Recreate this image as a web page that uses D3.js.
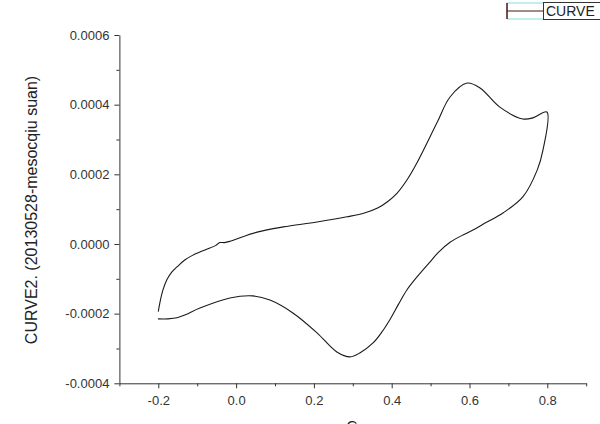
<!DOCTYPE html>
<html>
<head>
<meta charset="utf-8">
<script src="https://d3js.org/d3.v7.min.js"></script>
<style>
  body { margin: 0; background: #fff; }
  svg { display: block; font-family: "Liberation Sans", Arial, sans-serif; }
</style>
</head>
<body>
<div id="chart"></div>
<script>
// forward scan (-0.2 -> 0.8 V)
var forwardX = [-0.200, -0.196, -0.188, -0.178, -0.165, -0.152, -0.132, -0.111, -0.080, -0.052, -0.042, -0.030, -0.015, 0.054, 0.121, 0.208, 0.285, 0.330, 0.365, 0.390, 0.414, 0.440, 0.465, 0.516, 0.550, 0.594, 0.627, 0.678, 0.737, 0.763, 0.799];
var forwardY = [-0.000194, -0.000169, -0.000132, -0.000103, -0.000080, -0.000066, -0.000046, -0.000032, -0.000017, -0.000004, 0.000004, 0.000004, 0.000008, 0.000034, 0.000049, 0.000063, 0.000078, 0.000089, 0.000104, 0.000122, 0.000146, 0.000185, 0.000233, 0.000347, 0.000422, 0.000462, 0.000448, 0.000393, 0.000359, 0.000362, 0.000379];
// reverse scan (0.8 -> -0.2 V)
var reverseX = [0.789, 0.774, 0.737, 0.686, 0.640, 0.609, 0.580, 0.550, 0.520, 0.498, 0.470, 0.439, 0.418, 0.396, 0.374, 0.352, 0.318, 0.293, 0.259, 0.208, 0.146, 0.087, 0.043, -0.016, -0.093, -0.130, -0.152, -0.175, -0.201];
var reverseY = [0.000270, 0.000212, 0.000135, 0.000089, 0.000060, 0.000040, 0.000024, 0.000005, -0.000024, -0.000052, -0.000088, -0.000132, -0.000172, -0.000216, -0.000254, -0.000284, -0.000313, -0.000324, -0.000310, -0.000255, -0.000198, -0.000161, -0.000149, -0.000155, -0.000184, -0.000203, -0.000212, -0.000215, -0.000215];

var xTicks = [-0.2, 0.0, 0.2, 0.4, 0.6, 0.8];
var yTicks = [-0.0004, -0.0002, 0.0000, 0.0002, 0.0004, 0.0006];
var xLabel = "C";
var yLabel = "CURVE2. (20130528-mesocqiu suan)";
var legendLabel = "CURVE";

var width = 600, height = 424;
var svg = d3.select("#chart").append("svg")
    .attr("width", width)
    .attr("height", height);

var x = d3.scaleLinear().domain([-0.3, 0.9]).range([119.4, 586.2]);
var y = d3.scaleLinear().domain([-0.0004, 0.0006]).range([383.3, 35]);

var axisColor = "#333";
// plain hyphen for negatives, like the original
function fmt(spec) {
    var f = d3.format(spec);
    return function(d) { return f(d).replace("\u2212", "-"); };
}

// x axis (bottom)
var xAxis = svg.append("g")
    .attr("transform", "translate(0," + y(-0.0004) + ")")
    .call(d3.axisBottom(x).tickValues(xTicks).tickFormat(fmt(".1f")).tickSize(5).tickSizeOuter(0));
// minor ticks on x
svg.append("g")
    .attr("transform", "translate(0," + y(-0.0004) + ")")
    .call(d3.axisBottom(x).tickValues([-0.3, -0.1, 0.1, 0.3, 0.5, 0.7, 0.9]).tickFormat("").tickSize(3).tickSizeOuter(0))
    .select(".domain").remove();

// y axis (left)
var yAxis = svg.append("g")
    .attr("transform", "translate(" + x(-0.3) + ",0)")
    .call(d3.axisLeft(y).tickValues(yTicks).tickFormat(fmt(".4f")).tickSize(5).tickSizeOuter(0));
svg.append("g")
    .attr("transform", "translate(" + x(-0.3) + ",0)")
    .call(d3.axisLeft(y).tickValues([-0.0003, -0.0001, 0.0001, 0.0003, 0.0005]).tickFormat("").tickSize(3).tickSizeOuter(0))
    .select(".domain").remove();

svg.selectAll(".domain, .tick line").attr("stroke", axisColor);
xAxis.selectAll("text").attr("font-size", 13).attr("fill", "#333").attr("dy", "1.05em");
yAxis.selectAll("text").attr("font-size", 13).attr("fill", "#333").attr("x", -10).attr("dx", 0);
svg.selectAll(".tick text").attr("font-family", "Liberation Sans, Arial, sans-serif");

// axis titles
svg.append("text")
    .attr("transform", "translate(37," + 210 + ") rotate(-90)")
    .attr("text-anchor", "middle")
    .attr("font-size", 16)
    .attr("fill", "#222")
    .text(yLabel);

// x title sits mostly below the bottom edge, as in the original
svg.append("text")
    .attr("x", 352)
    .attr("y", 431)
    .attr("text-anchor", "middle")
    .attr("font-size", 15)
    .attr("fill", "#222")
    .text(xLabel);

// curve
var pts = [];
forwardX.forEach(function(d, i) { pts.push([d, forwardY[i]]); });
reverseX.forEach(function(d, i) { pts.push([d, reverseY[i]]); });

var line = d3.line()
    .x(function(d) { return x(d[0]); })
    .y(function(d) { return y(d[1]); })
    .curve(d3.curveCatmullRom.alpha(0.5));

svg.append("path")
    .datum(pts)
    .attr("d", line)
    .attr("fill", "none")
    .attr("stroke", "#1a1a1a")
    .attr("stroke-width", 1.1);

// legend (clipped at right edge)
var lg = svg.append("g");
lg.append("line").attr("x1", 507).attr("x2", 543).attr("y1", 3).attr("y2", 3).attr("stroke", "#7fdede");
lg.append("line").attr("x1", 507).attr("x2", 543).attr("y1", 19).attr("y2", 19).attr("stroke", "#7fdede");
lg.append("line").attr("x1", 507).attr("x2", 507).attr("y1", 3).attr("y2", 19).attr("stroke", "#4a1515").attr("stroke-width", 1.5);
lg.append("line").attr("x1", 507).attr("x2", 543).attr("y1", 11).attr("y2", 11).attr("stroke", "#4a1515");
lg.append("rect").attr("x", 543.5).attr("y", 2.5).attr("width", 80).attr("height", 17)
    .attr("fill", "#fff").attr("stroke", "#333");
lg.append("text").attr("x", 546).attr("y", 16).attr("font-size", 14).attr("fill", "#222").text(legendLabel);
</script>
</body>
</html>
